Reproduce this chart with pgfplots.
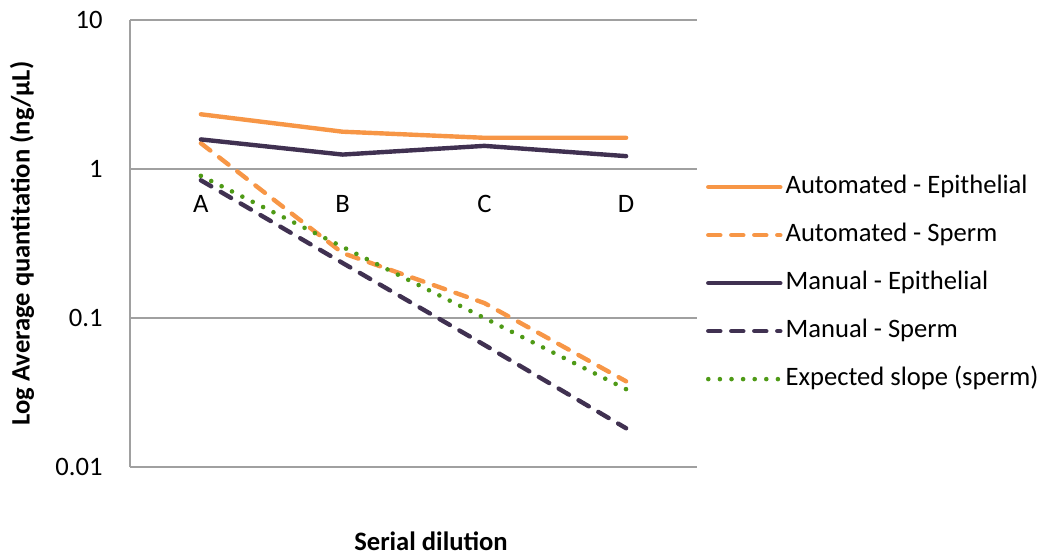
\documentclass[border=0pt]{standalone}
\usepackage{pgfplots}
\pgfplotsset{compat=1.18}
\usepackage{fontspec}
\setmainfont{Carlito}
\definecolor{cOrange}{RGB}{247,150,70}
\definecolor{cPurple}{RGB}{64,49,81}
\definecolor{cGreen}{RGB}{78,154,22}
\definecolor{cGrid}{RGB}{160,160,160}
\begin{document}
\begin{tikzpicture}
\path[use as bounding box] (-65pt,-43.5pt) rectangle (455pt,233.5pt);
\begin{axis}[
  at={(0pt,0pt)}, anchor=south west,
  scale only axis, width=283.5pt, height=223.5pt,
  ymode=log, ymin=0.01, ymax=10,
  xmin=-0.5, xmax=3.5,
  xtick={0,1,2,3}, xticklabels={A,B,C,D},
  ytick={0.01,0.1,1,10}, yticklabels={0.01,0.1,1,10},
  yminorticks=false,
  ymajorgrids, grid style={draw=cGrid, line width=0.7pt},
  axis x line*=bottom, axis y line*=left,
  axis line style={-, draw=cGrid, line width=0.7pt},
  major tick length=0pt,
  tick style={draw=none},
  /pgf/number format/assume math mode=true,
  font=\fontsize{13.3}{16}\selectfont,
  xticklabel style={anchor=center, yshift=131.75pt},
  yticklabel style={anchor=east, inner sep=0pt, xshift=-13.5pt},
  xlabel={\bfseries Serial dilution},
  ylabel={\bfseries Log Average quantitation (ng/µL)},
  every axis x label/.style={at={([yshift=-37pt,xshift=8.75pt]axis description cs:0.5,0)}, anchor=center},
  every axis y label/.style={at={([xshift=-54pt]axis description cs:0,0.5)}, rotate=90, anchor=center},
  legend style={draw=none, fill=none, at={(rel axis cs:1.0159,0.653)}, anchor=north west,
    row sep=12pt, inner sep=0pt, outer sep=0pt,
    nodes={inner sep=0pt, text height=9pt, text depth=3pt},
    font=\fontsize{13.3}{16}\selectfont},
  legend cell align=left,
  legend image code/.code={\draw[#1] (0pt,0pt) -- (36pt,0pt);},
  /tikz/every odd column/.append style={column sep=1.5pt},
]
\addplot[cOrange, line width=2.2pt, line cap=round] coordinates {(0,2.33) (1,1.78) (2,1.62) (3,1.62)};
\addlegendentry{Automated - Epithelial}
\addplot[cOrange, line width=2.2pt, line cap=round, dash pattern=on 6pt off 5.5pt] coordinates {(0,1.49) (1,0.273) (2,0.126) (3,0.0376)};
\addlegendentry{Automated - Sperm}
\addplot[cPurple, line width=2.2pt, line cap=round] coordinates {(0,1.58) (1,1.25) (2,1.43) (3,1.22)};
\addlegendentry{Manual - Epithelial}
\addplot[cPurple, line width=2.2pt, line cap=round, dash pattern=on 6pt off 5.5pt] coordinates {(0,0.84) (1,0.234) (2,0.066) (3,0.0182)};
\addlegendentry{Manual - Sperm}
\addplot[cGreen, line width=2.3pt, line cap=round, dash pattern=on 0pt off 5.8pt] coordinates {(0,0.9) (1,0.3) (2,0.1) (3,0.0333)};
\addlegendentry{Expected slope (sperm)}
\end{axis}
\end{tikzpicture}
\end{document}
